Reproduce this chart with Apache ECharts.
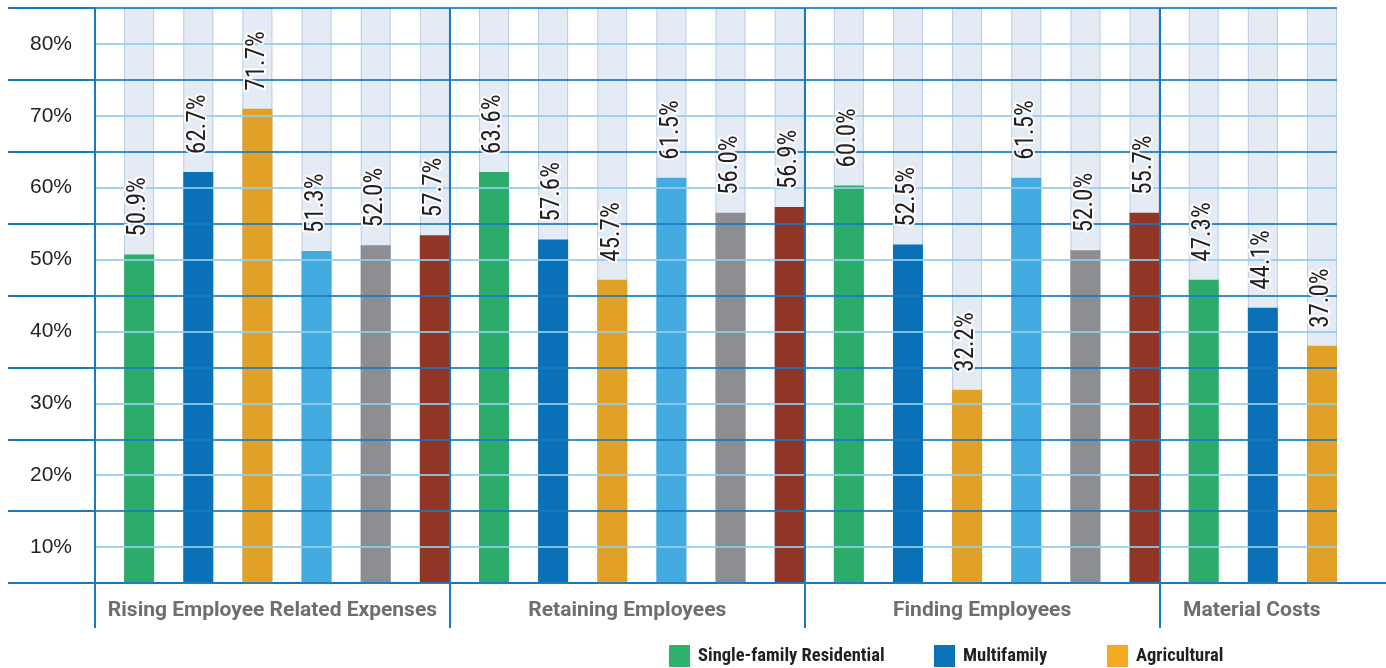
<!DOCTYPE html>
<html>
<head>
<meta charset="utf-8">
<script src="https://cdn.jsdelivr.net/npm/echarts@6/dist/echarts.min.js"></script>
<style>
html,body{margin:0;padding:0;background:#fff;}
#chart{width:1386px;height:668px;}
</style>
</head>
<body>
<div id="chart"></div>
<script>
// ---- data ----
const categories = ['Rising Employee Related Expenses', 'Retaining Employees', 'Finding Employees', 'Material Costs'];
const seriesNames = ['Single-family Residential', 'Multifamily', 'Agricultural', 'Series 4', 'Series 5', 'Series 6'];
// bar heights as drawn (%)
const singleFamily = [50.7, 62.2, 60.3, 47.2];
const multifamily  = [62.2, 52.8, 52.1, 43.3];
const agricultural = [71.0, 47.2, 31.9, 38.0];
const series4      = [51.2, 61.4, 61.4];
const series5      = [52.0, 56.5, 51.3];
const series6      = [53.4, 57.3, 56.5];
// printed value labels
const singleFamilyLabels = ['50.9%', '63.6%', '60.0%', '47.3%'];
const multifamilyLabels  = ['62.7%', '57.6%', '52.5%', '44.1%'];
const agriculturalLabels = ['71.7%', '45.7%', '32.2%', '37.0%'];
const series4Labels      = ['51.3%', '61.5%', '61.5%'];
const series5Labels      = ['52.0%', '56.0%', '52.0%'];
const series6Labels      = ['57.7%', '56.9%', '55.7%'];
const yTickLabels = [10, 20, 30, 40, 50, 60, 70, 80];
const Y_MIN = 5, Y_MAX = 85;

const allValues = [singleFamily, multifamily, agricultural, series4, series5, series6];
const allLabels = [singleFamilyLabels, multifamilyLabels, agriculturalLabels, series4Labels, series5Labels, series6Labels];
const colors = ['#2dab6b', '#0a71b9', '#e1a026', '#43abe0', '#8d8e92', '#913627'];
const legendColors = ['#2db36b', '#0b72ba', '#f5a922'];

// layout helpers
const SLOTS = 6;          // slots per category group
const OFFSET = 0.746;     // bar position within its slot
const xOf = (g, k) => g * SLOTS + k + OFFSET;

const DARK = '#1a78bd', LIGHT = '#91cdf0';

const bgData = [];
const colored = allValues.map((vals, k) => {
  vals.forEach((v, g) => bgData.push([xOf(g, k), Y_MAX]));
  return {
    name: seriesNames[k], type: 'bar', xAxisIndex: 0, yAxisIndex: 0,
    barWidth: 30, barGap: '-100%', z: 2,
    itemStyle: { color: colors[k] },
    data: vals.map((v, g) => [xOf(g, k), v])
  };
});
const labelData = [];
allValues.forEach((vals, k) => vals.forEach((v, g) => labelData.push({ name: allLabels[k][g], value: [xOf(g, k), v] })));

const groupLabelPos = [3, 9, 15, 19.56];

const chart = echarts.init(document.getElementById('chart'), null, { renderer: 'canvas' });
chart.setOption({
  animation: false,
  backgroundColor: '#fff',
  grid: [
    { left: 95, right: 49, top: 8, bottom: 85 },
    { left: 95, right: 0, top: 583, height: 45 },
    { left: 8, width: 87, top: 8, bottom: 85 }
  ],
  xAxis: [
    { gridIndex: 0, type: 'value', min: 0, max: 21, interval: 6, z: 3,
      axisLine: { show: false }, axisTick: { show: false }, axisLabel: { show: false },
      splitLine: { show: true, showMaxLine: false, lineStyle: { color: DARK, width: 2 } } },
    { gridIndex: 1, type: 'value', min: 0, max: 1291 / (1242 / 21), interval: 6, position: 'top',
      axisLine: { show: true, onZero: false, lineStyle: { color: DARK, width: 2 } },
      axisTick: { show: false },
      splitLine: { show: true, showMaxLine: false, lineStyle: { color: DARK, width: 2 } },
      axisLabel: { show: true, inside: true, margin: 17, customValues: groupLabelPos,
        formatter: v => { const i = groupLabelPos.findIndex(p => Math.abs(p - v) < 1e-6); return i >= 0 ? categories[i] : ''; },
        fontFamily: 'Roboto', fontWeight: 'bold', fontSize: 21, color: '#6d6e71' } },
    { gridIndex: 2, type: 'value', min: 0, max: 1, show: false }
  ],
  yAxis: [
    { gridIndex: 0, type: 'value', min: Y_MIN, max: Y_MAX, interval: 5, z: 3,
      axisLine: { show: false }, axisTick: { show: false },
      axisLabel: { margin: 23, fontFamily: 'Liberation Sans', fontSize: 21, color: '#231f20',
        formatter: v => yTickLabels.includes(v) ? v + '%' : '' },
      splitLine: { show: true, lineStyle: { color: [DARK, LIGHT], width: 2, opacity: 0.85 } } },
    { gridIndex: 1, type: 'value', min: 0, max: 1, show: false },
    { gridIndex: 2, type: 'value', min: Y_MIN, max: Y_MAX, interval: 10,
      axisLine: { show: false }, axisTick: { show: false }, axisLabel: { show: false },
      splitLine: { show: true, lineStyle: { color: DARK, width: 2 } } }
  ],
  legend: [0, 1, 2].map((k, i) => ({
    data: [{ name: seriesNames[k], itemStyle: { color: legendColors[k] } }],
    left: [669, 934, 1107][i], top: 645, padding: 0,
    itemWidth: 21, itemHeight: 22, icon: 'rect',
    textStyle: { fontFamily: "'Liberation Sans Narrow', 'Roboto Condensed', 'Liberation Sans'", fontWeight: 'bold', fontSize: 18.5, color: '#231f20', padding: [0, 0, 0, 3] }
  })),
  series: [
    { name: 'bg', type: 'bar', xAxisIndex: 0, yAxisIndex: 0, barWidth: 30, barGap: '-100%', z: 1, silent: true,
      itemStyle: { color: '#e5ebf5', borderColor: '#b9cbe3', borderWidth: 1 }, data: bgData },
    ...colored,
    { name: 'labels', type: 'bar', xAxisIndex: 0, yAxisIndex: 0, barWidth: 30, barGap: '-100%', z: 5, silent: true,
      itemStyle: { color: 'rgba(0,0,0,0)' },
      label: { show: true, position: 'top', rotate: 90, align: 'left', verticalAlign: 'middle', distance: 18,
        formatter: p => p.name,
        fontFamily: "'Liberation Sans Narrow', 'Roboto Condensed', 'Liberation Sans'", fontSize: 25, color: '#231f20',
        textBorderColor: 'rgba(255,255,255,0.9)', textBorderWidth: 4 },
      data: labelData }
  ]
});
</script>
</body>
</html>
